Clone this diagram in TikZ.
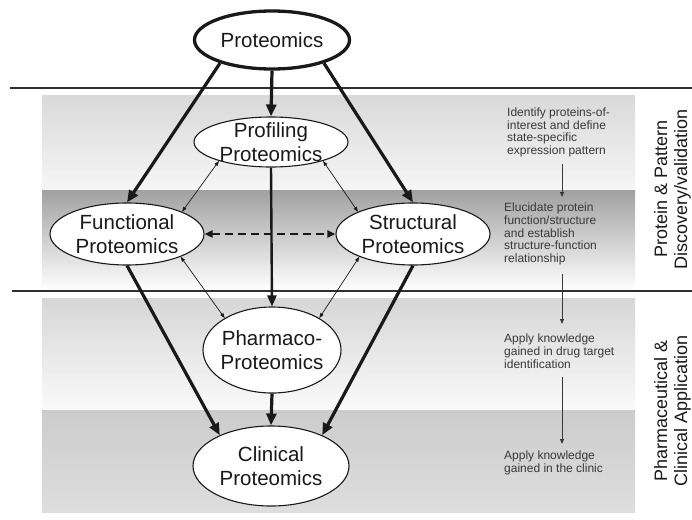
\documentclass[tikz,border=0pt]{standalone}
\usepackage{fontspec}
\setmainfont{Liberation Sans}
\usetikzlibrary{arrows.meta,shapes.geometric}
\definecolor{bAt}{gray}{0.85}
\definecolor{bAb}{gray}{0.965}
\definecolor{bBt}{gray}{0.63}
\definecolor{bBb}{gray}{0.99}
\definecolor{bCt}{gray}{0.84}
\definecolor{bCb}{gray}{0.98}
\definecolor{bDt}{gray}{0.80}
\definecolor{bDb}{gray}{0.87}
\definecolor{ink}{gray}{0.1}
\definecolor{rtxt}{gray}{0.22}
\begin{document}
\begin{tikzpicture}[x=1pt,y=-1pt,
  ell/.style={draw=ink, ellipse, fill=white, line width=1.1pt, inner xsep=-6pt, inner ysep=-10pt,
    align=center, text=ink, font=\fontsize{20.5}{24.5}\selectfont},
  thk/.style={draw=ink, line width=3.2pt, -{Triangle[length=12pt,width=10pt]}},
  med/.style={draw=ink, line width=2.4pt, -{Triangle[length=11pt,width=9pt]}},
  thn/.style={draw=ink, line width=0.7pt, {Triangle[length=5pt,width=3.5pt]}-{Triangle[length=5pt,width=3.5pt]}},
  dsh/.style={draw=ink, line width=2.2pt, dash pattern=on 8pt off 5pt,
    {Triangle[length=8pt,width=7pt]}-{Triangle[length=8pt,width=7pt]}},
  rarr/.style={draw=rtxt, line width=0.8pt, -{Triangle[length=5pt,width=4pt]}},
  rt/.style={anchor=north west, inner sep=0pt, align=left, text=rtxt, font=\fontsize{12}{12.8}\selectfont},
  vt/.style={rotate=90, inner sep=0pt, align=center, text=ink, font=\fontsize{18}{20}\selectfont},
  sep/.style={draw=ink!90, line width=2.2pt}
]
\useasboundingbox[fill=white] (0,0) rectangle (692,519);
% bands
\shade[top color=bAt, bottom color=bAb] (42,95) rectangle (635,190);
\shade[top color=bBt, bottom color=bBb] (42,190) rectangle (635,288);
\shade[top color=bCt, bottom color=bCb] (42,298) rectangle (635,410);
\shade[top color=bDt, bottom color=bDb] (42,410) rectangle (635,512);
% separators
\draw[sep] (10,88) -- (692,88);
\draw[sep] (12,291) -- (692,291);
% ellipses
\node[ell, line width=3.3pt, minimum width=155pt, minimum height=58pt] (prot) at (272,40) {Proteomics};
\node[ell, minimum width=154pt, minimum height=50pt] (prof) at (271,142) {Profiling\\Proteomics};
\node[ell, minimum width=154pt, minimum height=62pt] (func) at (127,234) {Functional\\Proteomics};
\node[ell, minimum width=154pt, minimum height=62pt] (struct) at (413,234) {Structural\\Proteomics};
\node[ell, minimum width=138pt, minimum height=86pt] (pharm) at (272,350) {Pharmaco-\\Proteomics};
\node[ell, minimum width=156pt, minimum height=80pt] (clin) at (271,466) {Clinical\\Proteomics};
% right texts
\node[rt] (t1) at (507,107.5) {Identify proteins-of-\\interest and define\\state-specific\\expression pattern};
\node[rt] (t2) at (504,202.5) {Elucidate protein\\function/structure\\and establish\\structure-function\\relationship};
\node[rt] (t3) at (504,333.5) {Apply knowledge\\gained in drug target\\identification};
\node[rt] (t4) at (504,450.5) {Apply knowledge\\gained in the clinic};
\coordinate (r1a) at (562,164);
\coordinate (r1b) at (562,197);
\coordinate (r2a) at (562,274);
\coordinate (r2b) at (562,324);
\coordinate (r3a) at (562,377);
\coordinate (r3b) at (562,444);
\draw[rarr] (r1a) -- (r1b);
\draw[rarr] (r2a) -- (r2b);
\draw[rarr] (r3a) -- (r3b);
% vertical labels
\node[vt] (v1) at (672.5,189) {Protein \& Pattern\\Discovery/validation};
\node[vt] (v2) at (672.5,411) {Pharmaceutical \&\\Clinical Application};
% connectors
\draw[thk] (prot.south) -- (prof.north);
\draw[thk] (prot.204) -- (func.north);
\draw[thk] (prot.336) -- (struct.north);
\draw[dsh] (func.east) -- (struct.west);
\draw[med] (prof.south) -- (pharm.north);
\draw[thk] (pharm.south) -- (clin.north);
\draw[thk] (func.south) -- (clin.149);
\draw[thk] (struct.south) -- (clin.31);
\draw[thn] (prof.200) -- (func.22);
\draw[thn] (prof.340) -- (struct.158);
\draw[thn] (func.337) -- (pharm.146);
\draw[thn] (struct.203) -- (pharm.34);
\end{tikzpicture}
\end{document}
